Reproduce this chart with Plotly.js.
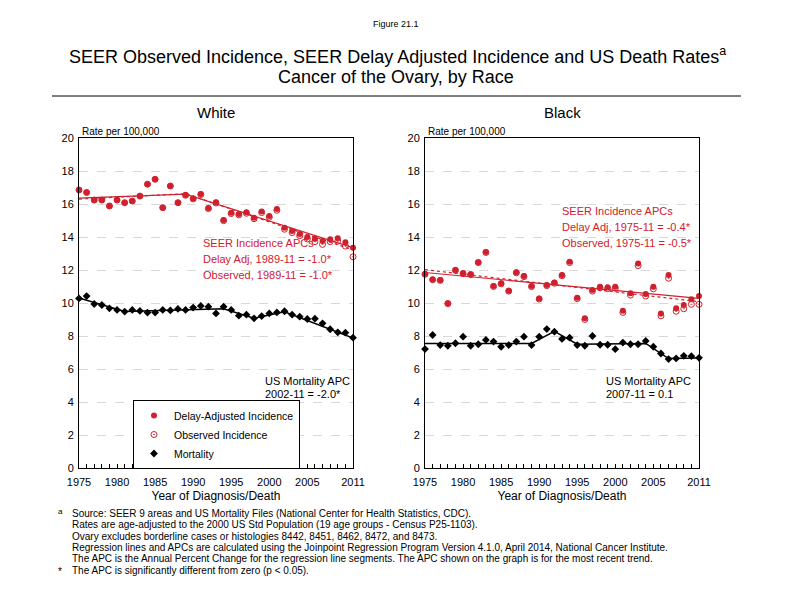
<!DOCTYPE html>
<html>
<head>
<meta charset="utf-8">
<script src="https://cdn.plot.ly/plotly-3.0.1.min.js"></script>
<style>html,body{margin:0;padding:0;background:#fff;}#chart{width:792px;height:612px;}</style>
</head>
<body>
<div id="chart"></div>
<script>
// ---------- DATA ----------
const years = [1975,1976,1977,1978,1979,1980,1981,1982,1983,1984,1985,1986,1987,1988,1989,1990,1991,1992,1993,1994,1995,1996,1997,1998,1999,2000,2001,2002,2003,2004,2005,2006,2007,2008,2009,2010,2011];

const whiteDelayAdj = [16.85,16.7,16.24,16.24,15.88,16.24,16.08,16.18,16.48,17.2,17.5,15.78,17.09,16.08,16.55,16.34,16.6,15.76,16.1,15.03,15.47,15.39,15.5,15.17,15.54,15.27,15.7,14.56,14.36,14.18,14.0,13.9,13.76,13.86,13.92,13.68,13.35];
const whiteObserved = [16.85,16.7,16.24,16.24,15.88,16.24,16.08,16.18,16.48,17.2,17.5,15.78,17.09,16.08,16.53,16.31,16.57,15.72,16.06,14.99,15.42,15.34,15.44,15.11,15.48,15.2,15.62,14.47,14.27,14.08,13.88,13.72,13.55,13.72,13.75,13.45,12.8];
const whiteMortality = [10.28,10.42,9.94,9.88,9.68,9.58,9.48,9.58,9.52,9.42,9.42,9.58,9.55,9.64,9.58,9.72,9.82,9.78,9.37,9.78,9.58,9.23,9.29,9.07,9.21,9.37,9.43,9.5,9.29,9.17,9.03,9.05,8.77,8.41,8.22,8.2,7.9];

const blackDelayAdj = [11.76,11.43,11.39,9.98,12.0,11.8,11.74,12.47,13.09,11.03,11.19,10.75,11.86,11.64,11.03,10.28,11.09,11.25,11.7,12.5,10.32,9.07,10.79,10.99,10.95,10.99,9.53,10.59,12.4,10.55,10.99,9.37,11.7,9.68,9.88,10.22,10.42];
const blackObserved = [11.74,11.41,11.37,9.96,11.98,11.78,11.72,12.45,13.06,11.0,11.16,10.72,11.83,11.6,10.99,10.24,11.05,11.2,11.65,12.45,10.26,9.0,10.72,10.92,10.87,10.9,9.43,10.48,12.27,10.42,10.86,9.22,11.5,9.5,9.65,9.92,9.92];
const blackMortality = [7.21,8.06,7.45,7.41,7.56,7.96,7.41,7.5,7.76,7.66,7.35,7.45,7.66,7.96,7.45,7.96,8.42,8.26,7.82,7.9,7.45,7.41,8.0,7.47,7.47,7.2,7.6,7.5,7.5,7.7,7.35,6.94,6.6,6.64,6.8,6.78,6.68];

// Joinpoint regression lines (read at the joinpoints)
const whiteDelayTrendYears = [1975,1989,2011];
const whiteDelayTrend = [16.35,16.6,13.35];
const whiteObsTrendYears = [1975,1989,2011];
const whiteObsTrend = [16.3,16.62,13.22];
const whiteMortTrendYears = [1975,1981,1994,1998,2002,2011];
const whiteMortTrend = [10.3,9.48,9.65,9.08,9.47,7.87];

const blackDelayTrendYears = [1975,2011];
const blackDelayTrend = [11.85,10.28];
const blackObsTrendYears = [1975,2011];
const blackObsTrend = [12.02,10.08];
const blackMortTrendYears = [1975,1989,1992,1995,2004,2007,2011];
const blackMortTrend = [7.55,7.55,8.28,7.5,7.55,6.63,6.66];

const xTickVals = [1975,1980,1985,1990,1995,2000,2005,2011];
const xTickText = ['1975','1980','1985','1990','1995','2000','2005','2011'];
const yTickVals = [0,2,4,6,8,10,12,14,16,18,20];

// ---------- STYLE ----------
const RED = '#d0202e';
const FONT = 'Liberation Sans, Arial, sans-serif';
const W = 792, H = 612;
const px = x => x / W;
const py = y => 1 - y / H;

function panelTraces(xa, ya, delay, obs, mort, dTY, dT, oTY, oT, mTY, mT, legend) {
  return [
    {x: oTY, y: oT, xaxis: xa, yaxis: ya, mode: 'lines', line: {color: RED, width: 1.2, dash: 'dot'}, showlegend: false, hoverinfo: 'skip'},
    {x: dTY, y: dT, xaxis: xa, yaxis: ya, mode: 'lines', line: {color: RED, width: 1.2}, showlegend: false, hoverinfo: 'skip'},
    {x: mTY, y: mT, xaxis: xa, yaxis: ya, mode: 'lines', line: {color: '#000', width: 1.5}, showlegend: false, hoverinfo: 'skip'},
    {x: years, y: delay, xaxis: xa, yaxis: ya, mode: 'markers', name: 'Delay-Adjusted Incidence', cliponaxis: false,
     marker: {symbol: 'circle', size: 6, color: RED, line: {width: 0}}, showlegend: legend},
    {x: years, y: obs, xaxis: xa, yaxis: ya, mode: 'markers', name: 'Observed Incidence', cliponaxis: false,
     marker: {symbol: 'circle-open-dot', size: 6, color: RED, line: {width: 1}}, showlegend: legend},
    {x: years, y: mort, xaxis: xa, yaxis: ya, mode: 'markers', name: 'Mortality', cliponaxis: false,
     marker: {symbol: 'diamond', size: 6, color: '#000', line: {width: 0}}, showlegend: legend}
  ];
}

const data = [].concat(
  panelTraces('x', 'y', whiteDelayAdj, whiteObserved, whiteMortality,
    whiteDelayTrendYears, whiteDelayTrend, whiteObsTrendYears, whiteObsTrend, whiteMortTrendYears, whiteMortTrend, true),
  panelTraces('x2', 'y2', blackDelayAdj, blackObserved, blackMortality,
    blackDelayTrendYears, blackDelayTrend, blackObsTrendYears, blackObsTrend, blackMortTrendYears, blackMortTrend, false)
);

function xAxis(domain, anchor) {
  return {
    domain: domain, anchor: anchor, range: [1975, 2011],
    tickvals: xTickVals, ticktext: xTickText,
    ticks: 'inside', ticklen: 4, tickcolor: '#000', tickwidth: 1, ticklabelstandoff: 4,
    minor: {dtick: 1, tick0: 1975, ticks: 'inside', ticklen: 4, tickcolor: '#000', showgrid: false},
    showgrid: false, zeroline: false, showline: true, mirror: true, linecolor: '#000', linewidth: 1,
    tickfont: {family: FONT, size: 11, color: '#000'},
    title: {text: 'Year of Diagnosis/Death', font: {family: FONT, size: 12, color: '#000'}, standoff: 4},
    fixedrange: true
  };
}
function yAxis(domain, anchor) {
  return {
    domain: domain, anchor: anchor, range: [0, 20],
    tickvals: yTickVals, ticks: '', showgrid: true, gridcolor: '#d8d8d8', griddash: 'dash', gridwidth: 1,
    zeroline: false, showline: true, mirror: true, linecolor: '#000', linewidth: 1, ticklabelstandoff: 2,
    tickfont: {family: FONT, size: 11, color: '#000'}, fixedrange: true
  };
}

const yDom = [py(468), py(138)];

function ann(text, x, y, opts) {
  return Object.assign({text: text, x: px(x), y: py(y), xref: 'paper', yref: 'paper', showarrow: false,
    xanchor: 'left', yanchor: 'middle', font: {family: FONT, size: 11, color: '#000'}}, opts || {});
}

const footFont = {family: FONT, size: 10, color: '#000'};
const annotations = [
  ann('Figure 21.1', 396, 24, {xanchor: 'center', font: {family: FONT, size: 9, color: '#000'}}),
  ann('SEER Observed Incidence, SEER Delay Adjusted Incidence and US Death Rates<sup>a</sup>', 397, 55, {xanchor: 'center', font: {family: FONT, size: 18, color: '#000'}}),
  ann('Cancer of the Ovary, by Race', 396, 77, {xanchor: 'center', font: {family: FONT, size: 18, color: '#000'}}),
  ann('White', 216, 112, {xanchor: 'center', font: {family: FONT, size: 15, color: '#000'}}),
  ann('Black', 562, 112, {xanchor: 'center', font: {family: FONT, size: 15, color: '#000'}}),
  ann('Rate per 100,000', 80, 131, {font: {family: FONT, size: 10, color: '#000'}}),
  ann('Rate per 100,000', 426, 131, {font: {family: FONT, size: 10, color: '#000'}}),
  ann('SEER Incidence APCs', 201, 243, {font: {family: FONT, size: 11, color: RED}}),
  ann('Delay Adj, 1989-11 = -1.0*', 201, 259, {font: {family: FONT, size: 11, color: RED}}),
  ann('Observed, 1989-11 = -1.0*', 201, 275, {font: {family: FONT, size: 11, color: RED}}),
  ann('US Mortality APC', 263, 381),
  ann('2002-11 = -2.0*', 263, 394),
  ann('SEER Incidence APCs', 560, 211, {font: {family: FONT, size: 11, color: RED}}),
  ann('Delay Adj, 1975-11 = -0.4*', 560, 227, {font: {family: FONT, size: 11, color: RED}}),
  ann('Observed, 1975-11 = -0.5*', 560, 243, {font: {family: FONT, size: 11, color: RED}}),
  ann('US Mortality APC', 604, 381),
  ann('2007-11 = 0.1', 604, 394),
  ann('a', 56, 511, {font: {family: FONT, size: 8, color: '#000'}}),
  ann('Source: SEER 9 areas and US Mortality Files (National Center for Health Statistics, CDC).', 70, 513, {font: footFont}),
  ann('Rates are age-adjusted to the 2000 US Std Population (19 age groups - Census P25-1103).', 70, 524.5, {font: footFont}),
  ann('Ovary excludes borderline cases or histologies 8442, 8451, 8462, 8472, and 8473.', 70, 536, {font: footFont}),
  ann('Regression lines and APCs are calculated using the Joinpoint Regression Program Version 4.1.0, April 2014, National Cancer Institute.', 70, 547.5, {font: footFont}),
  ann('The APC is the Annual Percent Change for the regression line segments. The APC shown on the graph is for the most recent trend.', 70, 558.5, {font: footFont}),
  ann('*', 56, 571, {font: {family: FONT, size: 10, color: '#000'}}),
  ann('The APC is significantly different from zero (p < 0.05).', 70, 570, {font: footFont})
];

const layout = {
  width: W, height: H,
  margin: {l: 0, r: 0, t: 0, b: 0},
  paper_bgcolor: '#fff', plot_bgcolor: '#fff',
  font: {family: FONT, color: '#000'},
  xaxis: xAxis([px(79), px(353)], 'y'),
  yaxis: yAxis(yDom, 'x'),
  xaxis2: xAxis([px(425), px(699)], 'y2'),
  yaxis2: yAxis(yDom, 'x2'),
  showlegend: true,
  legend: {x: px(133), y: py(400), xanchor: 'left', yanchor: 'top', bgcolor: '#fff', bordercolor: '#000', borderwidth: 1,
    font: {family: FONT, size: 10.5, color: '#000'}, tracegroupgap: 0, itemwidth: 30},
  annotations: annotations,
  shapes: [{type: 'line', xref: 'paper', yref: 'paper', x0: px(52), x1: px(741), y0: py(96), y1: py(96), line: {color: '#000', width: 1}}]
};

Plotly.newPlot('chart', data, layout, {displayModeBar: false, staticPlot: true});
</script>
</body>
</html>
